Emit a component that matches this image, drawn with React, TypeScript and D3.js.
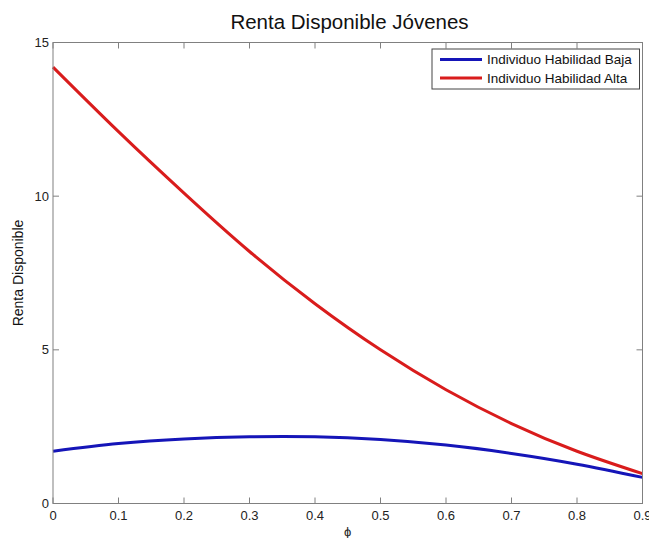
import React from "react";
import * as d3 from "d3";

// phi values on the x axis
const phi = [0, 0.1, 0.2, 0.3, 0.4, 0.5, 0.6, 0.7, 0.8, 0.9];
// Individuo Habilidad Baja
const baja = [1.7, 1.95, 2.1, 2.17, 2.17, 2.08, 1.9, 1.63, 1.28, 0.85];
// Individuo Habilidad Alta
const alta = [14.2, 12.1, 10.1, 8.2, 6.5, 5.0, 3.7, 2.6, 1.7, 0.97];
const xTicks = [0, 0.1, 0.2, 0.3, 0.4, 0.5, 0.6, 0.7, 0.8, 0.9];
const yTicks = [0, 5, 10, 15];

const W = 649;
const H = 538;
const margin = { top: 42.5, right: 6.5, bottom: 34.5, left: 53 };

export default function App() {
  const width = W - margin.left - margin.right;
  const height = H - margin.top - margin.bottom;
  const x = d3.scaleLinear().domain([0, 0.9]).range([0, width]);
  const y = d3.scaleLinear().domain([0, 15]).range([height, 0]);

  const line = d3
    .line<number>()
    .x((d, i) => x(phi[i]))
    .y((d) => y(d))
    .curve(d3.curveNatural);

  const series = [
    { name: "Individuo Habilidad Baja", values: baja, color: "#1515b8" },
    { name: "Individuo Habilidad Alta", values: alta, color: "#d91c1c" },
  ];

  const font = "'Liberation Sans', Arial, sans-serif";
  const axisColor = "#808080";
  const tickLen = 6;

  return (
    <svg
      width={W}
      height={H}
      style={{ position: "absolute", left: 0, top: 0, background: "#fff" }}
      fontFamily={font}
    >
      <text x={349.5} y={29} textAnchor="middle" fontSize={20.5} fill="#111">
        Renta Disponible Jóvenes
      </text>
      <g transform={`translate(${margin.left},${margin.top})`}>
        {/* series */}
        {series.map((s) => (
          <path
            key={s.name}
            d={line(s.values) || ""}
            fill="none"
            stroke={s.color}
            strokeWidth={3}
            strokeLinejoin="round"
          />
        ))}
        {/* frame */}
        <rect x={0} y={0} width={width} height={height} fill="none" stroke={axisColor} strokeWidth={1} />
        {/* x ticks */}
        {xTicks.map((t) => (
          <g key={"x" + t}>
            <line x1={x(t)} x2={x(t)} y1={height} y2={height - tickLen} stroke={axisColor} />
            <line x1={x(t)} x2={x(t)} y1={0} y2={tickLen} stroke={axisColor} />
            <text x={x(t)} y={height + 16} textAnchor="middle" fontSize={13} fill="#222">
              {t}
            </text>
          </g>
        ))}
        {/* y ticks */}
        {yTicks.map((t) => (
          <g key={"y" + t}>
            <line x1={0} x2={tickLen} y1={y(t)} y2={y(t)} stroke={axisColor} />
            <line x1={width} x2={width - tickLen} y1={y(t)} y2={y(t)} stroke={axisColor} />
            <text x={-4} y={y(t) + 4.5} textAnchor="end" fontSize={13} fill="#222">
              {t}
            </text>
          </g>
        ))}
        {/* axis labels */}
        <text x={width / 2} y={height + 32} textAnchor="middle" fontSize={13} fill="#222">
          ϕ
        </text>
        <text
          transform={`translate(${-30},${height / 2}) rotate(-90)`}
          textAnchor="middle"
          fontSize={14}
          fill="#111"
        >
          Renta Disponible
        </text>
        {/* legend */}
        <g transform={`translate(${width - 210.5},${6.5})`}>
          <rect x={0} y={0} width={207.5} height={40} fill="#fff" stroke="#444" strokeWidth={1} />
          {series.map((s, i) => (
            <g key={s.name} transform={`translate(0,${10.5 + i * 18.5})`}>
              <line x1={8} x2={50} y1={0} y2={0} stroke={s.color} strokeWidth={3} />
              <text x={55} y={4.5} fontSize={13.5} fill="#111">
                {s.name}
              </text>
            </g>
          ))}
        </g>
      </g>
    </svg>
  );
}
